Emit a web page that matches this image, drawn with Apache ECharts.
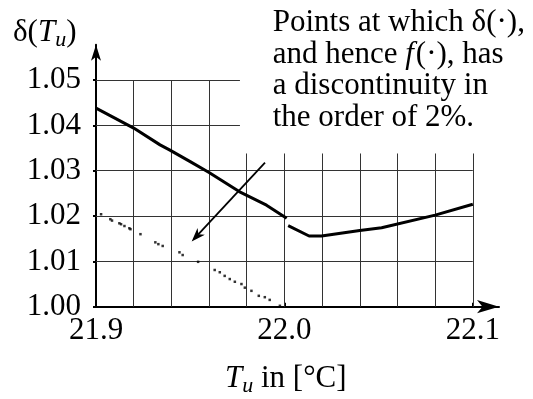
<!DOCTYPE html>
<html>
<head>
<meta charset="utf-8">
<script src="https://cdn.jsdelivr.net/npm/echarts@6/dist/echarts.min.js"></script>
<style>
  html, body { margin: 0; padding: 0; background: #fff; }
  #chart { width: 533px; height: 399px; }
</style>
</head>
<body>
<div id="chart"></div>
<script>
// δ(T_u) versus temperature T_u in °C

// continuous curve, left of the jump
const curveLeftT = [21.9, 21.92, 21.934, 21.939, 21.95, 21.96, 21.976, 21.9905, 22.0012];
const curveLeftD = [1.0438, 1.0394, 1.0357, 1.0346, 1.032, 1.0296, 1.0254, 1.0224, 1.0195];

// continuous curve, right of the jump
const curveRightT = [22.002, 22.0131, 22.0197, 22.04, 22.0516, 22.08, 22.1];
const curveRightD = [1.0179, 1.0156, 1.0156, 1.0168, 1.0174, 1.0202, 1.0226];

// sampled points of the lower branch
const dotsT = [21.9027, 21.9076, 21.9085, 21.9124, 21.9133, 21.9151, 21.9177, 21.9183, 21.9236,
  21.9315, 21.9331, 21.9354, 21.9443, 21.946, 21.9542, 21.963, 21.9657, 21.9683, 21.971,
  21.9737, 21.9772, 21.979, 21.9825, 21.9864, 21.9896, 21.9922, 21.9976];
const dotsD = [1.0204, 1.0193, 1.019, 1.0184, 1.0182, 1.0178, 1.0173, 1.0171, 1.016,
  1.0142, 1.0138, 1.0134, 1.012, 1.0114, 1.0099, 1.0081, 1.0076, 1.0068, 1.0061,
  1.0055, 1.005, 1.0042, 1.0035, 1.0024, 1.0021, 1.0015, 1.0002];

// tick labels
const xTicks = [21.9, 22.0, 22.1];
const yTicks = [1.00, 1.01, 1.02, 1.03, 1.04, 1.05];

// grid lines (the upper right corner is left free for the note)
const gridColsTall = [21.92, 21.94, 21.96];
const gridColsShort = [21.98, 22.0, 22.02, 22.04, 22.06, 22.08, 22.1];
const gridRowsWide = [1.01, 1.02, 1.03];
const gridRowsShort = [1.04, 1.05];

// note arrow: tail and head
const noteArrowFrom = [21.9897, 1.0318];
const noteArrowTo = [21.9533, 1.0155];

const X_MIN = 21.9, X_MAX = 22.1139;
const Y_MIN = 1.0, Y_MAX = 1.0578;

const gridSegments = [];
gridColsTall.forEach(x => gridSegments.push([[x, 1.0], [x, 1.05]]));
gridColsShort.forEach(x => gridSegments.push([[x, 1.0], [x, 1.0338]]));
gridRowsWide.forEach(y => gridSegments.push([[21.9, y], [22.1, y]]));
gridRowsShort.forEach(y => gridSegments.push([[21.9, y], [21.9764, y]]));

const zip = (a, b) => a.map((v, i) => [v, b[i]]);

const FAMILY = '"Liberation Serif", "Times New Roman", serif';
const measureCtx = document.createElement('canvas').getContext('2d');
function fontOf(p) {
  return (p.italic ? 'italic ' : '') + p.size + 'px ' + FAMILY;
}
// lays out pieces of text side by side on a common baseline
function textRun(x, baseline, pieces) {
  const out = [];
  let cx = x;
  pieces.forEach(p => {
    const font = fontOf(p);
    measureCtx.font = font;
    const w = measureCtx.measureText(p.t).width;
    out.push({
      type: 'text',
      silent: true,
      x: cx,
      y: baseline + (p.dy || 0) - 0.3375 * p.size,
      style: { text: p.t, font: font, fill: '#000', align: 'left', verticalAlign: 'middle' }
    });
    cx += w + (p.gap || 0);
  });
  return out;
}

const S = 31, SUB = 22;
const graphics = [].concat(
  // y axis name δ(T_u)
  textRun(13, 43, [
    { t: 'δ', size: S },
    { t: '(', size: S },
    { t: 'T', size: S, italic: true },
    { t: 'u', size: SUB, italic: true, dy: 5 },
    { t: ')', size: S }
  ]),
  // x axis name T_u in [°C]
  textRun(225, 389, [
    { t: 'T', size: S, italic: true },
    { t: 'u', size: SUB, italic: true, dy: 5 },
    { t: ' in [°C]', size: S }
  ]),
  // note
  textRun(272.7, 33.3, [{ t: 'Points at which δ(·),', size: S }]),
  textRun(272.7, 65, [
    { t: 'and hence ', size: S },
    { t: 'f', size: S, italic: true, gap: 2 },
    { t: '(·), has', size: S }
  ]),
  textRun(272.7, 96.7, [{ t: 'a discontinuity in', size: S }]),
  textRun(272.7, 128.3, [{ t: 'the order of 2%.', size: S }])
);

const chart = echarts.init(document.getElementById('chart'), null, { renderer: 'canvas' });
chart.setOption({
  animation: false,
  backgroundColor: '#fff',
  grid: { left: 96, right: 34, top: 44.7, bottom: 92.3, containLabel: false },
  xAxis: {
    type: 'value',
    min: X_MIN,
    max: X_MAX,
    interval: 0.1,
    axisLine: {
      show: true, onZero: false,
      symbol: ['none', 'arrow'], symbolSize: [10, 22],
      lineStyle: { color: '#000', width: 2 }
    },
    axisTick: { show: true, inside: true, length: 4, customValues: xTicks, lineStyle: { color: '#000', width: 2 } },
    axisLabel: {
      customValues: xTicks,
      margin: 9,
      color: '#000',
      fontFamily: FAMILY,
      fontSize: S,
      formatter: v => (v <= 22.1001 ? v.toFixed(1) : '')
    },
    splitLine: { show: false }
  },
  yAxis: {
    type: 'value',
    min: Y_MIN,
    max: Y_MAX,
    interval: 0.01,
    axisLine: {
      show: true, onZero: false,
      symbol: ['none', 'arrow'], symbolSize: [7.5, 16],
      lineStyle: { color: '#000', width: 2 }
    },
    axisTick: { show: true, inside: false, length: 3, customValues: yTicks, lineStyle: { color: '#000', width: 2 } },
    axisLabel: {
      customValues: yTicks,
      margin: 15,
      color: '#000',
      fontFamily: FAMILY,
      fontSize: S,
      formatter: v => (v <= 1.0501 ? v.toFixed(2) : '')
    },
    splitLine: { show: false }
  },
  graphic: graphics,
  series: [
    {
      type: 'lines',
      coordinateSystem: 'cartesian2d',
      silent: true,
      z: 1,
      lineStyle: { color: '#333', width: 1, opacity: 1 },
      data: gridSegments.map(c => ({ coords: c }))
    },
    {
      type: 'line',
      data: zip(curveLeftT, curveLeftD),
      showSymbol: false,
      silent: true,
      z: 3,
      lineStyle: { color: '#000', width: 3 }
    },
    {
      type: 'line',
      data: zip(curveRightT, curveRightD),
      showSymbol: false,
      silent: true,
      z: 3,
      lineStyle: { color: '#000', width: 3 }
    },
    {
      type: 'scatter',
      data: zip(dotsT, dotsD),
      symbol: 'rect',
      symbolSize: 2.5,
      silent: true,
      z: 3,
      itemStyle: { color: '#000' }
    },
    {
      type: 'lines',
      coordinateSystem: 'cartesian2d',
      silent: true,
      z: 4,
      symbol: ['none', 'path://M-7,0M7,0M0,0L5,14L0,10L-5,14Z'],
      symbolSize: 14,
      lineStyle: { color: '#000', width: 1.8, opacity: 1 },
      itemStyle: { color: '#000' },
      data: [{ coords: [noteArrowFrom, noteArrowTo] }]
    }
  ]
});
</script>
</body>
</html>
